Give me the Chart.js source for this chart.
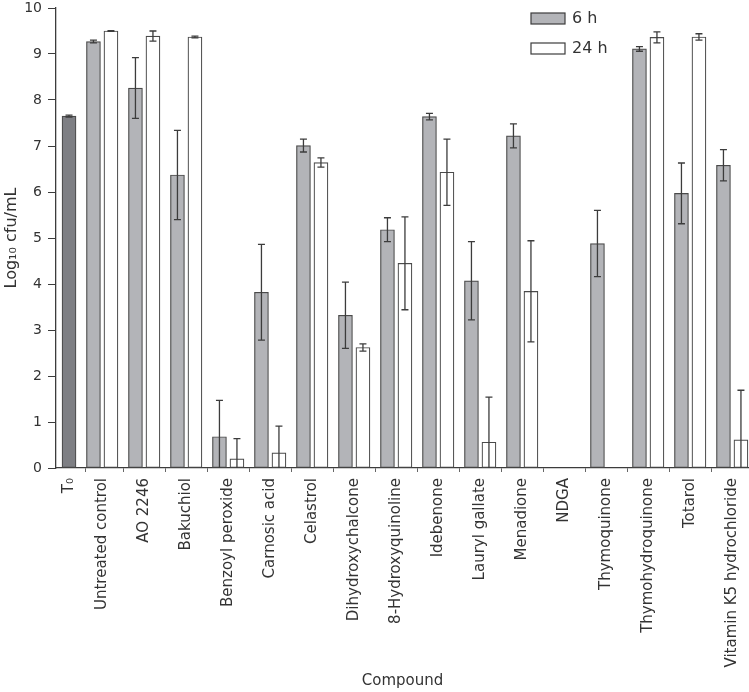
<!DOCTYPE html>
<html lang="en">
<head>
    <meta charset="UTF-8">
    <title>Log10 cfu/mL by compound</title>
    <script src="https://cdn.jsdelivr.net/npm/chart.js"></script>
    <style>
        html, body { margin: 0; padding: 0; background: #fff; }
        #wrap { width: 749px; height: 692px; }
    </style>
</head>
<body>
    <div id="wrap"><canvas id="cfuChart"></canvas></div>
    <script>
        const categories = ['T\u2080', 'Untreated control', 'AO 2246', 'Bakuchiol', 'Benzoyl peroxide', 'Carnosic acid',
            'Celastrol', 'Dihydroxychalcone', '8-Hydroxyquinoline', 'Idebenone', 'Lauryl gallate', 'Menadione',
            'NDGA', 'Thymoquinone', 'Thymohydroquinone', 'Totarol', 'Vitamin K5 hydrochloride'];
        const values6h = [7.65, 9.27, 8.26, 6.37, 0.68, 3.82, 7.01, 3.32, 5.18, 7.64, 4.07, 7.22, 0, 4.88, 9.11, 5.97, 6.58];
        const err6h = [0.02, 0.03, 0.66, 0.97, 0.79, 1.04, 0.14, 0.72, 0.26, 0.07, 0.85, 0.26, 0, 0.72, 0.05, 0.66, 0.34];
        const values24h = [null, 9.50, 9.39, 9.37, 0.20, 0.33, 6.64, 2.62, 4.45, 6.43, 0.56, 3.84, 0, 0, 9.36, 9.37, 0.61];
        const err24h = [null, 0.01, 0.11, 0.02, 0.44, 0.58, 0.10, 0.08, 1.01, 0.72, 0.98, 1.10, 0, 0, 0.12, 0.07, 1.08];
        const yTicks = [0, 1, 2, 3, 4, 5, 6, 7, 8, 9, 10];

        const FONT = "'DejaVu Sans', sans-serif";
        const INK = '#3c3c3c';

        // T0 sits in a narrower slot than the compound groups
        const xPos = categories.map((c, i) => i === 0 ? 0.21 : i);

        const errorBars = {
            id: 'errorBars',
            afterDatasetsDraw(chart) {
                const ctx = chart.ctx;
                const y = chart.scales.y;
                ctx.save();
                ctx.strokeStyle = INK;
                ctx.lineWidth = 1.3;
                chart.data.datasets.forEach((ds, di) => {
                    const meta = chart.getDatasetMeta(di);
                    meta.data.forEach((bar, i) => {
                        const v = ds.data[i].y;
                        const e = ds.errors[i];
                        if (v === null || !e) return;
                        const top = y.getPixelForValue(v + e);
                        const bot = y.getPixelForValue(Math.max(v - e, 0));
                        const cap = 3.5;
                        ctx.beginPath();
                        ctx.moveTo(bar.x, top); ctx.lineTo(bar.x, bot);
                        ctx.moveTo(bar.x - cap, top); ctx.lineTo(bar.x + cap, top);
                        if (v - e > 0) { ctx.moveTo(bar.x - cap, bot); ctx.lineTo(bar.x + cap, bot); }
                        ctx.stroke();
                    });
                });
                ctx.restore();
            }
        };

        const boxLegend = {
            id: 'boxLegend',
            afterDraw(chart) {
                const ctx = chart.ctx;
                ctx.save();
                ctx.font = '16px ' + FONT;
                ctx.textBaseline = 'middle';
                ctx.lineWidth = 1.2;
                ctx.strokeStyle = INK;
                chart.data.datasets.forEach((ds, i) => {
                    const top = 13 + i * 30;
                    ctx.fillStyle = i === 0 ? '#b3b4b8' : '#ffffff';
                    ctx.fillRect(531, top, 34, 11);
                    ctx.strokeRect(531, top, 34, 11);
                    ctx.fillStyle = '#333';
                    ctx.fillText(ds.label, 572, top + 6);
                });
                ctx.restore();
            }
        };

        const ctx = document.getElementById('cfuChart').getContext('2d');
        new Chart(ctx, {
            type: 'bar',
            data: {
                datasets: [{
                    label: '6 h',
                    data: xPos.map((x, i) => ({ x: x, y: values6h[i] })),
                    errors: err6h,
                    backgroundColor: categories.map((c, i) => i === 0 ? '#7e7f84' : '#b3b4b8'),
                    borderColor: '#4a4a4a',
                    borderWidth: 1.2,
                    borderSkipped: false
                }, {
                    label: '24 h',
                    data: xPos.map((x, i) => ({ x: x, y: values24h[i] })),
                    errors: err24h,
                    backgroundColor: '#ffffff',
                    borderColor: '#4a4a4a',
                    borderWidth: 1.2,
                    borderSkipped: false
                }]
            },
            options: {
                responsive: true,
                maintainAspectRatio: false,
                animation: false,
                skipNull: true,
                barThickness: 17.5,
                maxBarThickness: 14,
                layout: { padding: { top: 8, right: 0, left: 0, bottom: 0 } },
                plugins: {
                    legend: { display: false },
                    tooltip: { enabled: false }
                },
                scales: {
                    x: {
                        type: 'linear',
                        offset: false,
                        min: -0.1,
                        max: 16.4,
                        afterBuildTicks: scale => { scale.ticks = xPos.map(v => ({ value: v })); },
                        afterFit: scale => {
                            scale.height = 224;
                            scale.paddingLeft = 0;
                            scale.paddingRight = 0;
                        },
                        ticks: {
                            autoSkip: false,
                            minRotation: 90,
                            maxRotation: 90,
                            padding: 6,
                            color: '#333',
                            font: { family: FONT, size: 15 },
                            callback: (value, index) => categories[index]
                        },
                        grid: { drawOnChartArea: false, drawTicks: true, tickLength: 4, color: '#666' },
                        border: { display: true, color: INK, width: 1.3 },
                        title: {
                            display: true,
                            text: 'Compound',
                            color: '#333',
                            font: { family: FONT, size: 15 },
                            padding: { top: 0, bottom: 2 }
                        }
                    },
                    y: {
                        min: 0,
                        max: 10,
                        afterBuildTicks: scale => { scale.ticks = yTicks.map(v => ({ value: v })); },
                        afterFit: scale => {
                            scale.width = 56;
                            scale.paddingTop = 0;
                            scale.paddingBottom = 0;
                        },
                        ticks: {
                            padding: 6,
                            color: '#333',
                            font: { family: FONT, size: 14 }
                        },
                        grid: { drawOnChartArea: false, drawTicks: true, tickLength: 8, color: INK },
                        border: { display: true, color: INK, width: 1.3 },
                        title: {
                            display: true,
                            text: 'Log\u2081\u2080 cfu/mL',
                            color: '#333',
                            font: { family: FONT, size: 16 },
                            padding: { top: 2, bottom: 0 }
                        }
                    }
                }
            },
            plugins: [errorBars, boxLegend]
        });
    </script>
</body>
</html>
